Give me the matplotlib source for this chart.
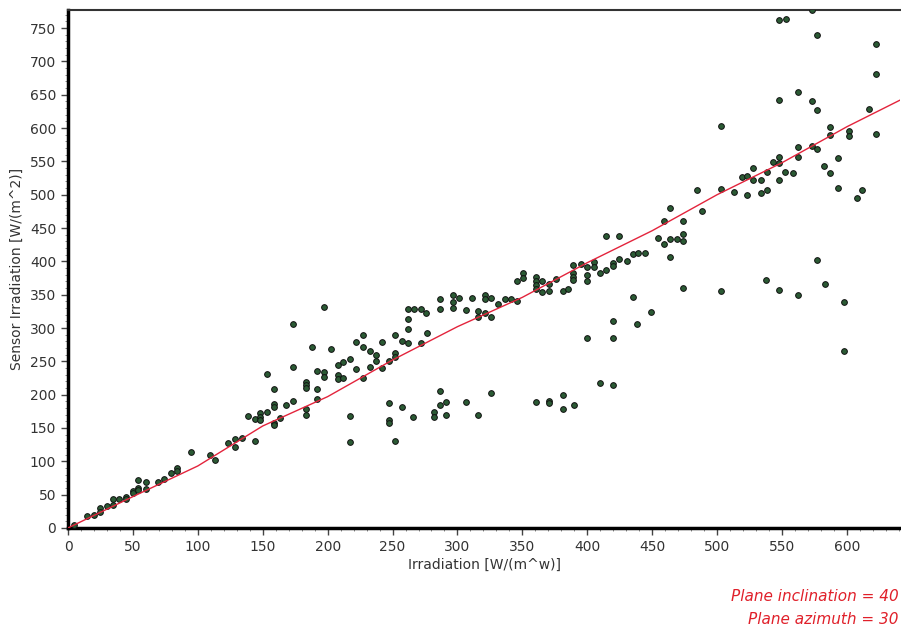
import matplotlib
matplotlib.use("Agg")
import matplotlib.pyplot as plt
from matplotlib.ticker import MultipleLocator

irr_x = [4.6, 15, 20, 25, 25, 30, 35, 35, 39.5, 44.7, 45, 50, 50, 54, 54, 54, 60, 60, 69.6, 74,
         79, 84, 84, 94.5, 109, 113.5,
         123.5, 128.6, 128.6, 134, 138.4, 144, 144, 148, 148, 148, 153, 153, 158.7, 158.7, 158.7,
         158.7, 158.7, 163, 167.7, 173, 173, 173,
         183.4, 183.4, 183.4, 183.4, 183.4, 187.7, 192, 192, 192, 197.5, 197.5, 197.5, 202.6,
         207.8, 207.8, 207.8, 212, 212, 217, 217, 217, 222, 222, 227, 227, 227, 232.7, 232.7,
         237, 237, 241.7, 241.7, 247.5, 247.5, 247.5, 247.5, 252, 252, 252, 252, 257, 257,
         262, 262, 262, 262, 266.6, 266, 271.7, 271.7, 276, 276.3,
         282, 282, 286.6, 286.6, 286.6, 286.6, 291.2, 291.2, 296.4, 296.4, 296.4, 301.5, 306.6,
         306.6, 311, 315.6, 315.6, 315.6, 321, 321, 321, 325.6, 325.6, 325.6, 331, 336.7, 341,
         345.7, 345.7, 350.8, 350.8,
         360.5, 360.5, 360.5, 360.5, 360.5, 365, 365, 370.8, 370.8, 370.8, 370.8, 376, 381, 381,
         381, 385.4, 389.3, 389.3, 389.3, 389.3, 390, 395, 399.6, 399.6, 399.6, 399.6, 405, 405,
         410, 410, 414.5, 414.5, 419.6, 419.6, 419.6, 419.6, 419.6, 424.7, 424.7, 430.4, 435,
         435, 439.4, 438.6, 444.5, 449.4,
         454.8, 459, 459, 463.8, 463.8, 463.8, 469.4, 474, 474, 474, 474, 484.3, 488.7, 503, 503,
         503, 513.3, 519, 523.3, 523.3, 528, 528, 533.6, 533.6, 537.7, 538.3, 538.3, 543.4, 548,
         548, 548, 548, 548, 553, 548, 552.4, 558.3, 562.6, 562.6, 562.6, 562.6, 573, 573, 573,
         577.3, 577.3, 577.3, 577.3, 582.7, 582.8, 587, 587, 587, 593, 593, 597.6, 597.6, 601.7,
         601.7, 607.6, 612, 617.3, 622.3, 622.3, 622.3]
sensor_y = [4.5, 18, 19.5, 30, 24, 33, 43, 35, 43, 47, 43, 56, 52, 72, 60, 57, 69.5, 59, 69.5, 73,
            82, 89.5, 85, 114, 110, 101.5,
            127, 133, 122, 135.5, 168, 131, 163, 172, 167, 162, 174, 231.5, 208, 186, 182,
            158, 154, 165.5, 184.5, 306.5, 242, 190,
            219, 214, 210, 178, 170, 272, 236, 208, 193, 332, 234.5, 227, 268,
            244.5, 230, 223, 249.5, 225.5, 253, 168, 129, 278.5, 238, 289.5, 272, 225.5, 266, 242,
            259.5, 250.5, 278.5, 239.5, 250.5, 187, 162, 158, 289.5, 262, 257, 131, 280.5, 182,
            328, 313, 298, 277, 328, 167, 328, 277, 322, 292,
            174.5, 166, 343, 328, 206, 184.5, 188.5, 169.5, 349.5, 339, 329.5, 344.5, 327,
            188.5, 344.5, 325.5, 316, 169.5, 349.5, 343, 322, 344.5, 317, 202, 336, 343, 343,
            340.5, 370.5, 383, 374.5,
            377, 370.5, 364.5, 358, 188.5, 370.5, 354.5, 366, 355.5, 191, 187, 373, 355.5, 199.5,
            178, 358, 394.5, 383, 376, 372, 184.5, 395.5, 391, 380, 371, 285.5, 399.5, 392,
            383, 217, 387, 438.5, 397, 393, 311, 285.5, 214.5, 438.5, 404, 401, 411,
            347, 413, 306, 413, 323.5,
            434.5, 426, 461, 479.5, 433, 407, 433, 441, 431, 460.5, 359.5, 507, 475.5, 603.5, 509,
            355.5, 504.5, 526.5, 528.5, 499, 539.5, 522, 522, 503, 372.5, 534.5, 507, 549.5, 557,
            548, 522, 642, 762, 763.5, 357.5, 534.5, 533, 654.5, 571.5, 557, 349, 777, 640, 573.5,
            740, 627, 569, 402.5, 543.5, 366, 601, 590, 533, 554.5, 509.5, 338.5, 265.5, 595.5,
            588.5, 494.5, 507, 629, 725.5, 680.5, 590.5]

# red fit curve
fit_x = [0, 50, 100, 150, 200, 250, 300, 350, 400, 450, 500, 550, 600, 641]
fit_y = [0, 47, 93, 153, 197, 252, 302, 346, 398, 446, 500, 548, 602, 642]

fig = plt.figure(figsize=(9.01, 6.33), dpi=100)
ax = fig.add_axes([0.0755, 0.166, 0.9235, 0.818])

ax.scatter(irr_x, sensor_y, s=17, c="#2b5a34", edgecolors="#111111", linewidths=0.7, zorder=3)
ax.plot(fit_x, fit_y, color="#e3243c", lw=1.0, zorder=4)

ax.set_xlim(0, 641)
ax.set_ylim(0, 777)
ax.xaxis.set_major_locator(MultipleLocator(50))
ax.xaxis.set_minor_locator(MultipleLocator(10))
ax.yaxis.set_major_locator(MultipleLocator(50))
ax.yaxis.set_minor_locator(MultipleLocator(10))
ax.tick_params(which="major", direction="out", length=5, width=1, colors="#444444",
               labelsize=10, labelcolor="#333333")
ax.tick_params(which="minor", direction="out", length=2.5, width=0.7, colors="#888888")

for side in ["left", "bottom"]:
    ax.spines[side].set_linewidth(2.5)
    ax.spines[side].set_color("black")
ax.spines["top"].set_linewidth(1.5)
ax.spines["top"].set_color("#333333")
ax.spines["right"].set_visible(False)

ax.set_xlabel("Irradiation [W/(m^w)]", fontsize=10, color="#333333", labelpad=3)
ax.set_ylabel("Sensor Irradiation [W/(m^2)]", fontsize=10, color="#333333", labelpad=4)

fig.text(0.997, 0.057, "Plane inclination = 40", ha="right", va="center",
         color="#e0202a", style="italic", fontsize=11)
fig.text(0.997, 0.022, "Plane azimuth = 30", ha="right", va="center",
         color="#e0202a", style="italic", fontsize=11)

fig.savefig("out.png", dpi=100)
